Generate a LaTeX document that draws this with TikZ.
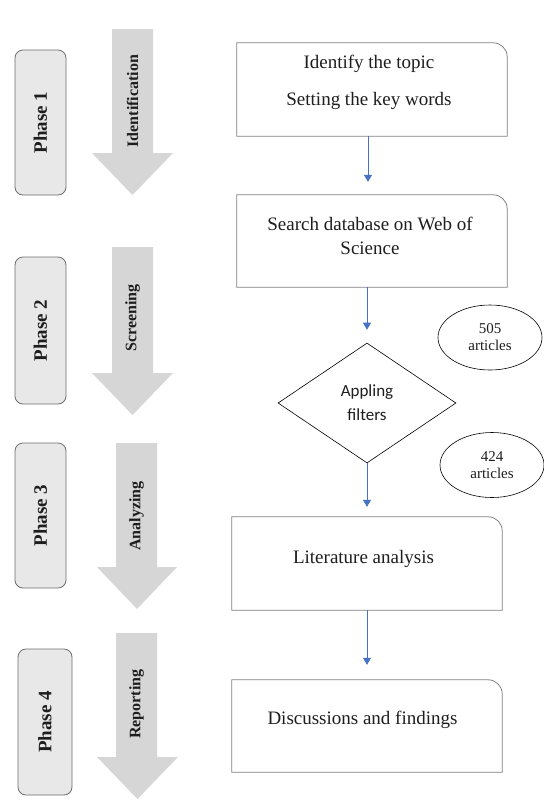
\documentclass[tikz,border=0pt]{standalone}
\usepackage{fontspec}
\setmainfont{Liberation Serif}
\newfontfamily\calib{Carlito}
\usetikzlibrary{shapes.geometric,arrows.meta}
\definecolor{phaseline}{HTML}{6E6E6E}
\definecolor{phasefill}{HTML}{E8E8E8}
\definecolor{arrowgray}{HTML}{D6D6D6}
\definecolor{boxline}{HTML}{808080}
\definecolor{connblue}{HTML}{4472C4}
\definecolor{inkdark}{HTML}{1E1E1E}
\begin{document}
\begin{tikzpicture}[x=1pt,y=-1pt,
  phasebox/.style={draw=phaseline, fill=phasefill, rounded corners=8pt, line width=0.8pt,
    inner sep=0pt, rotate=90, text=inkdark, font=\fontsize{19}{22}\selectfont\bfseries},
  bigarrow/.style={fill=arrowgray, draw=none},
  arrowtext/.style={font=\fontsize{16}{19}\selectfont\bfseries, text=inkdark, rotate=90, inner sep=0pt},
  boxnode/.style={draw=none, minimum width=270pt, inner sep=0pt},
  boxframe/.style={draw=boxline, line width=0.8pt},
  boxtext/.style={font=\fontsize{19}{24}\selectfont, text=inkdark, align=center, inner sep=0pt},
  conn/.style={draw=connblue, line width=0.8pt, -{Triangle[width=8pt,length=7pt]}},
  blob/.style={ellipse, draw=black, line width=0.6pt, minimum width=104pt, minimum height=65pt,
    inner sep=0pt, align=center, text=inkdark, font=\fontsize{15}{17}\selectfont},
  filterbox/.style={diamond, draw=black, line width=0.6pt, minimum width=178pt, minimum height=120pt,
    inner sep=0pt, align=center, text=inkdark, font=\calib\fontsize{17}{24}\selectfont}
]
\useasboundingbox[fill=white] (0,0) rectangle (544,807);

% phases
\node[phasebox, minimum width=145pt, minimum height=51pt] (p1) at (40.5,122.5) {Phase 1};
\node[phasebox, minimum width=147pt, minimum height=51pt] (p2) at (40.5,330.5) {Phase 2};
\node[phasebox, minimum width=145pt, minimum height=51pt] (p3) at (40.5,515.5) {Phase 3};
\node[phasebox, minimum width=146pt, minimum height=54pt] (p4) at (45,722) {Phase 4};

% big gray arrows
\fill[bigarrow] (112,29) -- (153,29) -- (153,153) -- (173,153) -- (132.5,195) -- (92,153) -- (112,153) -- cycle;
\fill[bigarrow] (112,247) -- (153,247) -- (153,373) -- (173,373) -- (132.5,415) -- (92,373) -- (112,373) -- cycle;
\fill[bigarrow] (116,443) -- (157,443) -- (157,567) -- (177,567) -- (137,609) -- (97,567) -- (116,567) -- cycle;
\fill[bigarrow] (116,633) -- (157,633) -- (157,757) -- (178,757) -- (137.5,799) -- (97,757) -- (116,757) -- cycle;
\node[arrowtext] (l1) at (132.5,101) {Identification};
\node[arrowtext] (l2) at (132.5,318) {Screening};
\node[arrowtext] (l3) at (136.5,516) {Analyzing};
\node[arrowtext] (l4) at (136.5,704) {Reporting};

% process boxes
\node[boxnode, minimum height=93pt] (b1) at (372,89.5) {};
\node[boxnode, minimum height=92pt] (b2) at (372,241) {};
\node[boxnode, minimum height=93pt] (b3) at (367,563.5) {};
\node[boxnode, minimum height=92pt] (b4) at (367,726) {};
\foreach \b in {b1,b2,b3,b4}{
  \draw[boxframe] (\b.south west) -- (\b.north west) -- ([xshift=-14pt]\b.north east)
    .. controls ([xshift=-6.3pt]\b.north east) and ([yshift=-6.3pt]\b.north east) .. ([yshift=-14pt]\b.north east)
    -- (\b.south east) -- cycle;
}
\node[boxtext] (t1) at (369,82.5) {Identify the topic\\[13pt]Setting the key words};
\node[boxtext] (t2) at (370,236) {Search database on Web of\\Science};
\node[boxtext] (t3) at (363.5,559) {Literature analysis};
\node[boxtext] (t4) at (362.5,720) {Discussions and findings};

% filter and counts
\node[filterbox] (d) at (367,403) {Appling\\filters};
\node[blob] (e1) at (490,337.5) {505\\articles};
\node[blob] (e2) at (492,465) {424\\articles};

% connectors
\draw[conn, shorten >=13pt] ([xshift=-4pt]b1.south) -- ([xshift=-4pt]b2.north);
\draw[conn, shorten >=13pt] ([xshift=-5pt]b2.south) -- (d.north);
\draw[conn, shorten >=10pt] (d.south) -- (b3.north);
\draw[conn, shorten >=15pt] (b3.south) -- (b4.north);
\end{tikzpicture}
\end{document}
